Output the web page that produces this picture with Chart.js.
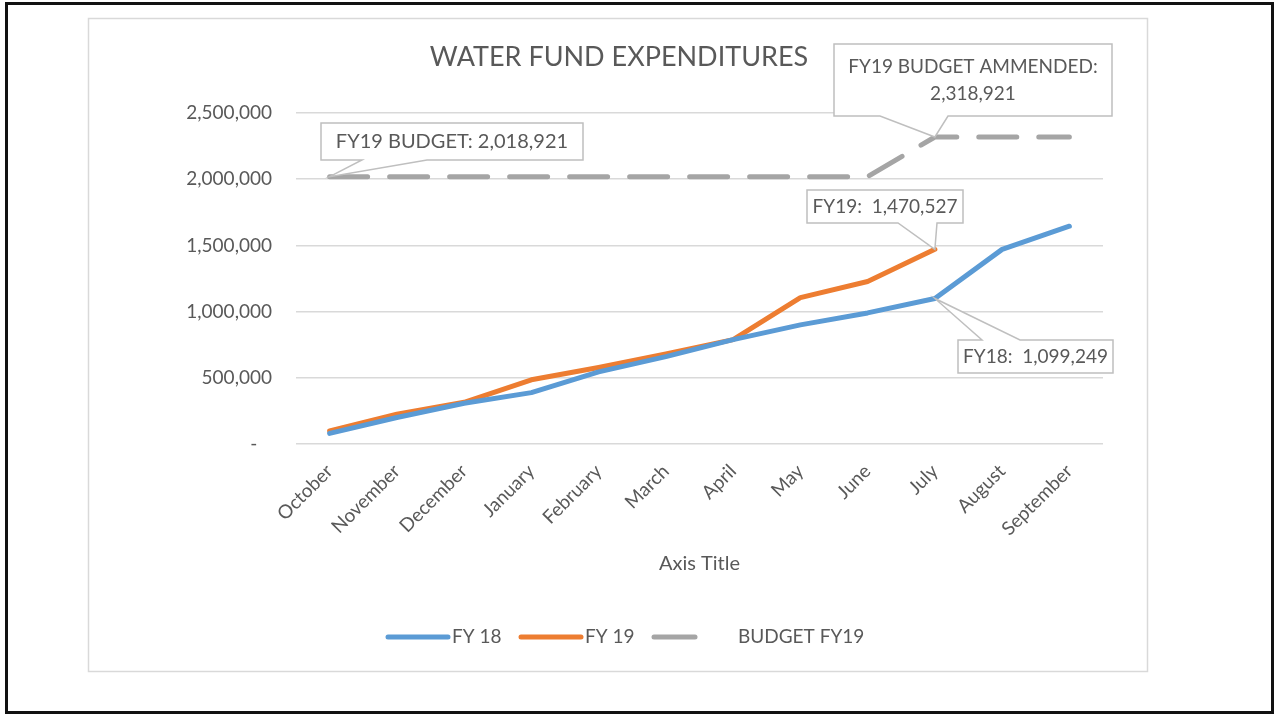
<!DOCTYPE html>
<html>
<head>
<meta charset="utf-8">
<script src="https://cdn.jsdelivr.net/npm/chart.js@4.4.0/dist/chart.umd.min.js"></script>
<style>
  html, body { margin: 0; padding: 0; background: #fff; }
  #wrap { width: 1276px; height: 715px; position: relative; }
</style>
</head>
<body>
<div id="wrap"><canvas id="grafico" width="1276" height="715"></canvas></div>
<script>
// ---------- data
var meses = ['October', 'November', 'December', 'January', 'February', 'March',
             'April', 'May', 'June', 'July', 'August', 'September'];
var fy18 = [80000, 200000, 308000, 388000, 545000, 660000, 788000, 900000, 990000, 1099249, 1470000, 1645000];
var fy19 = [98000, 225000, 315000, 485000, 578000, 680000, 788000, 1106000, 1227000, 1470527, null, null];
var budgetFY19 = [2018921, 2018921, 2018921, 2018921, 2018921, 2018921, 2018921, 2018921, 2018921, 2318921, 2318921, 2318921];
var yTicks = [0, 500000, 1000000, 1500000, 2000000, 2500000];

var AZUL = '#5B9BD5';
var LARANJA = '#ED7D31';
var CINZA = '#A5A5A5';
var TEXTO = '#595959';
var FONTE = 'Lato, "Open Sans", sans-serif';

function fmt(v) {
    return v.toLocaleString('en-US');
}

// callouts: which dataset / point, and where the box sits
var callouts = [
    { ds: 2, idx: 0, lines: ['FY19 BUDGET: ' + fmt(budgetFY19[0])], box: [321, 123, 262, 37], side: 'bottom', base: [362, 427], size: 20 },
    { ds: 2, idx: 9, lines: ['FY19 BUDGET AMMENDED:', fmt(budgetFY19[9])], box: [834, 44, 278, 72], side: 'bottom', base: [880, 948], size: 19 },
    { ds: 1, idx: 9, lines: ['FY19:  ' + fmt(fy19[9])], box: [807, 190, 156, 33], side: 'bottom', base: [898, 937], size: 19 },
    { ds: 0, idx: 9, lines: ['FY18:  ' + fmt(fy18[9])], box: [958, 340, 155, 33], side: 'top', base: [982, 1020], size: 19 }
];

var legendItems = [
    { text: 'FY 18', color: AZUL, x1: 388, x2: 448, tx: 452 },
    { text: 'FY 19', color: LARANJA, x1: 521, x2: 581, tx: 585 },
    { text: 'BUDGET FY19', color: CINZA, x1: 654, x2: 695, tx: 738 }
];

var molduraPlugin = {
    id: 'moldura',
    beforeDraw: function (chart) {
        var ctx = chart.ctx;
        ctx.save();
        ctx.fillStyle = '#fff';
        ctx.fillRect(0, 0, chart.width, chart.height);
        ctx.strokeStyle = '#111';
        ctx.lineWidth = 3;
        ctx.strokeRect(6.5, 3.5, 1266, 709);
        ctx.strokeStyle = '#D9D9D9';
        ctx.lineWidth = 1.5;
        ctx.strokeRect(88.5, 18.5, 1059, 653);
        // title
        ctx.fillStyle = TEXTO;
        ctx.font = '27px ' + FONTE;
        ctx.textAlign = 'center';
        ctx.textBaseline = 'middle';
        ctx.fillText('WATER FUND EXPENDITURES', 619, 57);
        ctx.restore();
    },
    afterDraw: function (chart) {
        var ctx = chart.ctx;
        ctx.save();
        // legend
        ctx.font = '19px ' + FONTE;
        ctx.textBaseline = 'middle';
        ctx.textAlign = 'left';
        ctx.lineCap = 'round';
        ctx.lineWidth = 5;
        legendItems.forEach(function (it) {
            ctx.strokeStyle = it.color;
            ctx.beginPath();
            ctx.moveTo(it.x1, 637);
            ctx.lineTo(it.x2, 637);
            ctx.stroke();
            ctx.fillStyle = TEXTO;
            ctx.fillText(it.text, it.tx, 637);
        });

        // callouts
        callouts.forEach(function (c) {
            var meta = chart.getDatasetMeta(c.ds);
            var ponto = meta.data[c.idx];
            var tx = ponto.x, ty = ponto.y;
            var x = c.box[0], y = c.box[1], w = c.box[2], h = c.box[3];
            ctx.beginPath();
            if (c.side === 'bottom') {
                ctx.moveTo(x, y);
                ctx.lineTo(x + w, y);
                ctx.lineTo(x + w, y + h);
                ctx.lineTo(c.base[1], y + h);
                ctx.lineTo(tx, ty);
                ctx.lineTo(c.base[0], y + h);
                ctx.lineTo(x, y + h);
            } else {
                ctx.moveTo(x, y);
                ctx.lineTo(c.base[0], y);
                ctx.lineTo(tx, ty);
                ctx.lineTo(c.base[1], y);
                ctx.lineTo(x + w, y);
                ctx.lineTo(x + w, y + h);
                ctx.lineTo(x, y + h);
            }
            ctx.closePath();
            ctx.fillStyle = '#fff';
            ctx.fill();
            ctx.strokeStyle = '#BFBFBF';
            ctx.lineWidth = 1.5;
            ctx.lineCap = 'butt';
            ctx.stroke();

            ctx.fillStyle = TEXTO;
            ctx.font = c.size + 'px ' + FONTE;
            ctx.textAlign = 'center';
            var lh = 27;
            var cy = y + h / 2 - (c.lines.length - 1) * lh / 2;
            c.lines.forEach(function (t, k) {
                ctx.fillText(t, x + w / 2, cy + k * lh);
            });
        });
        ctx.restore();
    }
};

var ctxGrafico = document.getElementById('grafico').getContext('2d');
var grafico = new Chart(ctxGrafico, {
    type: 'line',
    data: {
        labels: meses,
        datasets: [
            {
                label: 'FY 18',
                data: fy18,
                borderColor: AZUL,
                backgroundColor: AZUL,
                borderWidth: 5,
                pointRadius: 0,
                tension: 0,
                borderCapStyle: 'round',
                borderJoinStyle: 'round'
            },
            {
                label: 'FY 19',
                data: fy19,
                borderColor: LARANJA,
                backgroundColor: LARANJA,
                borderWidth: 5,
                pointRadius: 0,
                tension: 0,
                borderCapStyle: 'round',
                borderJoinStyle: 'round'
            },
            {
                label: 'BUDGET FY19',
                data: budgetFY19,
                borderColor: CINZA,
                backgroundColor: CINZA,
                borderWidth: 5,
                borderDash: [38, 22],
                pointRadius: 0,
                tension: 0,
                borderCapStyle: 'round',
                borderJoinStyle: 'round'
            }
        ]
    },
    options: {
        responsive: false,
        animation: false,
        layout: { padding: { left: 88, right: 173, top: 113, bottom: 43 } },
        plugins: {
            legend: { display: false },
            title: { display: false },
            tooltip: { enabled: false }
        },
        scales: {
            x: {
                offset: true,
                grid: { display: false },
                border: { display: false },
                ticks: {
                    autoSkip: false,
                    maxRotation: 45,
                    minRotation: 45,
                    padding: 8,
                    color: TEXTO,
                    font: { family: FONTE, size: 19 }
                },
                title: {
                    display: true,
                    text: 'Axis Title',
                    color: TEXTO,
                    font: { family: FONTE, size: 20 },
                    padding: { top: 0, bottom: 96 }
                },
                afterFit: function (scale) { scale.height = 228; }
            },
            y: {
                min: 0,
                max: 2500000,
                afterBuildTicks: function (scale) {
                    scale.ticks = yTicks.map(function (v) { return { value: v }; });
                },
                grid: { color: '#D9D9D9', lineWidth: 1.5, drawTicks: false },
                border: { display: false },
                ticks: {
                    padding: 24,
                    color: TEXTO,
                    font: { family: FONTE, size: 19 },
                    callback: function (v) { return v === 0 ? '-   ' : fmt(v); }
                },
                afterFit: function (scale) { scale.width = 208; }
            }
        }
    },
    plugins: [molduraPlugin]
});
</script>
</body>
</html>
